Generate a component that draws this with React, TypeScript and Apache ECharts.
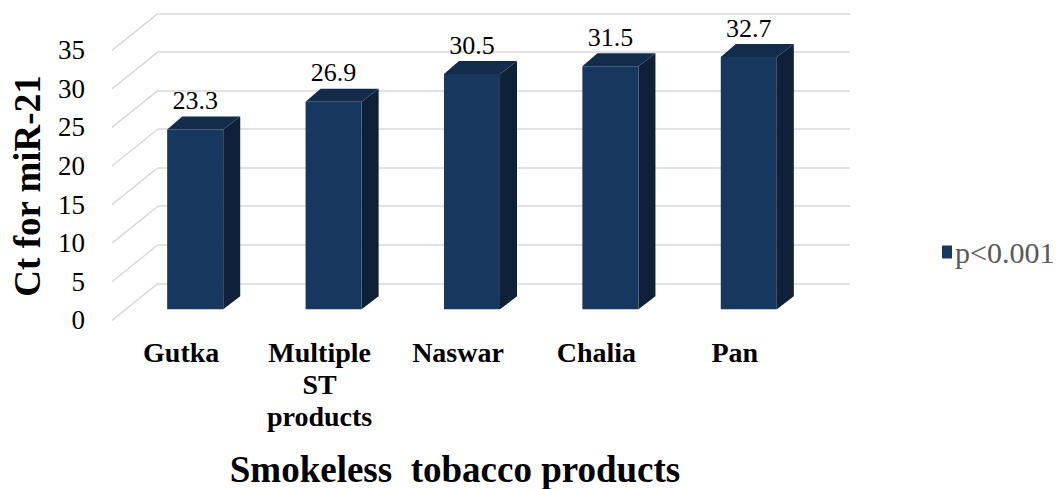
import React, { useEffect, useRef } from "react";
import * as echarts from "echarts";

const categories = ["Gutka", "Multiple ST products", "Naswar", "Chalia", "Pan"];
const ctValues = [23.3, 26.9, 30.5, 31.5, 32.7];
const yTicks = [0, 5, 10, 15, 20, 25, 30, 35];
const seriesName = "p<0.001";
const yTitle = "Ct for miR-21";
const xTitle = "Smokeless  tobacco products";

const SERIF = "Liberation Serif";
const FRONT = "#17375e";
const TOP = "#132c4c";
const SIDE = "#0f2138";
const GRID = "#d9d9d9";

// projection of depth (back wall -> front edge)
const FLOOR_DX = -46;
const FLOOR_DY = 37;
const BAR_DX = -32;
const BAR_DY = 26;
const SIDE_DX = 17;
const SIDE_DY = -13;

export default function App() {
  const ref = useRef<HTMLDivElement>(null);

  useEffect(() => {
    if (!ref.current) return;
    const chart = echarts.init(ref.current, undefined, { renderer: "svg" });

    const option: any = {
      animation: false,
      backgroundColor: "#ffffff",
      grid: [
        { left: 158, top: 13.3, width: 692, height: 270 },
        { left: 112, top: 50.3, width: 692, height: 270 },
      ],
      xAxis: [
        {
          type: "category",
          gridIndex: 0,
          data: categories,
          axisLine: { show: false },
          axisTick: { show: false },
          axisLabel: { show: false },
          splitLine: { show: false },
        },
        {
          type: "category",
          gridIndex: 1,
          data: categories,
          axisLine: { show: false },
          axisTick: { show: false },
          splitLine: { show: false },
          axisLabel: {
            margin: 16,
            fontFamily: SERIF,
            fontWeight: "bold",
            fontSize: 28,
            lineHeight: 32,
            color: "#000000",
            interval: 0,
            formatter: (v: string) => v.split(" ").join("\n"),
          },
        },
      ],
      yAxis: [
        {
          type: "value",
          gridIndex: 0,
          min: 0,
          max: 35,
          interval: 5,
          axisLine: { show: false },
          axisTick: { show: false },
          axisLabel: { show: false },
          splitLine: { show: true, lineStyle: { color: GRID, width: 1.5 } },
        },
        {
          type: "value",
          gridIndex: 1,
          min: 0,
          max: 35,
          interval: 5,
          axisLine: { show: false },
          axisTick: { show: false },
          splitLine: { show: false },
          axisLabel: {
            margin: 27,
            fontFamily: SERIF,
            fontSize: 27,
            color: "#000000",
          },
        },
      ],
      legend: {
        data: [{ name: seriesName, icon: "rect" }],
        left: 937,
        top: 232,
        itemWidth: 10,
        itemHeight: 13,
        itemGap: 4,
        textStyle: { fontFamily: SERIF, fontSize: 30, color: "#595959", padding: [0, 0, 0, -2] },
      },
      graphic: [
        {
          type: "text",
          x: 27,
          y: 186,
          rotation: Math.PI / 2,
          style: {
            text: yTitle,
            fontFamily: SERIF,
            fontWeight: "bold",
            fontSize: 37,
            fill: "#000000",
            textAlign: "center",
            textVerticalAlign: "middle",
          },
        },
        {
          type: "text",
          x: 455,
          y: 469,
          style: {
            text: xTitle,
            fontFamily: SERIF,
            fontWeight: "bold",
            fontSize: 37,
            fill: "#000000",
            textAlign: "center",
            textVerticalAlign: "middle",
          },
        },
      ],
      series: [
        {
          type: "custom",
          name: "walls",
          xAxisIndex: 0,
          yAxisIndex: 0,
          silent: true,
          data: yTicks.map((v) => [0, v]),
          z: 1,
          renderItem: (params: any, api: any) => {
            const v = api.value(1);
            const y = api.coord([0, v])[1];
            const x0 = params.coordSys.x;
            return {
              type: "line",
              shape: { x1: x0, y1: y, x2: x0 + FLOOR_DX, y2: y + FLOOR_DY },
              style: { stroke: GRID, lineWidth: 1.5 },
            };
          },
        },
        {
          type: "custom",
          name: seriesName,
          xAxisIndex: 0,
          yAxisIndex: 0,
          itemStyle: { color: FRONT },
          z: 3,
          data: ctValues.map((v, i) => [i, v]),
          renderItem: (params: any, api: any) => {
            const idx = api.value(0);
            const val = api.value(1);
            const top = api.coord([idx, val]);
            const base = api.coord([idx, 0]);
            const band = api.size([1, 0])[0];
            const w = band * 0.405;
            const cx = top[0] + BAR_DX;
            const ty = top[1] + BAR_DY;
            const by = base[1] + BAR_DY;
            const l = cx - w / 2;
            const r = cx + w / 2;
            return {
              type: "group",
              children: [
                {
                  type: "polygon",
                  shape: {
                    points: [
                      [r, ty],
                      [r + SIDE_DX, ty + SIDE_DY],
                      [r + SIDE_DX, by + SIDE_DY],
                      [r, by],
                    ],
                  },
                  style: { fill: SIDE },
                },
                {
                  type: "polygon",
                  shape: {
                    points: [
                      [l, ty],
                      [l + 15, ty + SIDE_DY],
                      [r + SIDE_DX, ty + SIDE_DY],
                      [r, ty],
                    ],
                  },
                  style: { fill: TOP },
                },
                {
                  type: "rect",
                  shape: { x: l, y: ty, width: w, height: by - ty },
                  style: { fill: FRONT },
                },
                {
                  type: "text",
                  x: cx,
                  y: ty + SIDE_DY - 16,
                  style: {
                    text: String(val),
                    fontFamily: SERIF,
                    fontSize: 26,
                    fill: "#000000",
                    textAlign: "center",
                    textVerticalAlign: "middle",
                  },
                },
              ],
            };
          },
        },
      ],
    };

    chart.setOption(option);
    return () => chart.dispose();
  }, []);

  return (
    <div
      ref={ref}
      style={{ position: "fixed", left: 0, top: 0, width: 1059, height: 489 }}
    />
  );
}
